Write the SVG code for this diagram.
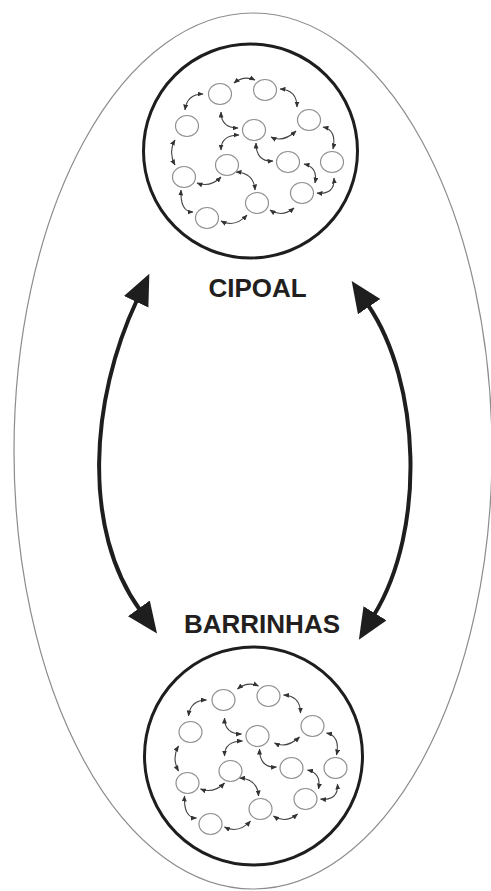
<svg xmlns="http://www.w3.org/2000/svg" xmlns:xlink="http://www.w3.org/1999/xlink" width="491" height="891" viewBox="0 0 491 891">
<style>
.outer{fill:none;stroke:#8c8c8c;stroke-width:1.2}
.big{fill:#fff;stroke:#1e1e1e;stroke-width:3}
.sm{fill:#fff;stroke:#8f8f8f;stroke-width:1.2}
.lk{fill:none;stroke:#444;stroke-width:1.1;marker-start:url(#sh);marker-end:url(#sh)}
.bigarrow{fill:none;stroke:#1e1e1e;stroke-width:4;marker-start:url(#bh);marker-end:url(#bh)}
.lbl{font-family:"Liberation Sans",Arial,sans-serif;font-weight:bold;font-size:26px;fill:#231f20;text-anchor:middle}
</style>
<defs>
<marker id="bh" viewBox="0 0 32 28" refX="2" refY="13.5" markerWidth="32" markerHeight="28" markerUnits="userSpaceOnUse" orient="auto-start-reverse">
<path d="M0,0 L31,13.5 L0,27 Z" fill="#1e1e1e"/>
</marker>
<marker id="sh" viewBox="0 0 6 5" refX="5.5" refY="2.5" markerWidth="6" markerHeight="5" markerUnits="userSpaceOnUse" orient="auto-start-reverse">
<path d="M0,0 L6,2.5 L0,5 Z" fill="#333"/>
</marker>
<g id="net">
<g id="links">
<path class="lk" d="M185,110 Q187,94 203,94"/>
<path class="lk" d="M234,83 Q244,75 255,80"/>
<path class="lk" d="M280,89 Q297,90 297,107"/>
<path class="lk" d="M221,112 Q221,128 238,128"/>
<path class="lk" d="M271,137 Q283,143 296,131"/>
<path class="lk" d="M323,127 Q337,130 333,149"/>
<path class="lk" d="M239,135 Q221,135 221,150"/>
<path class="lk" d="M256,143 Q256,162 273,161"/>
<path class="lk" d="M304,164 Q318,167 315,183"/>
<path class="lk" d="M334,178 Q335,195 317,193"/>
<path class="lk" d="M175,140 Q168,152 175,165"/>
<path class="lk" d="M197,183 Q210,188 221,177"/>
<path class="lk" d="M236,172 Q254,173 255,190"/>
<path class="lk" d="M181,190 Q180,212 193,212"/>
<path class="lk" d="M221,221 Q235,228 247,215"/>
<path class="lk" d="M270,210 Q282,218 294,208"/>
</g>
<ellipse class="sm" cx="220" cy="94" rx="11.5" ry="10.5"/>
<ellipse class="sm" cx="265" cy="90" rx="11.5" ry="10.5"/>
<ellipse class="sm" cx="187" cy="126" rx="11.5" ry="10.5"/>
<ellipse class="sm" cx="309" cy="120" rx="11.5" ry="10.5"/>
<ellipse class="sm" cx="254" cy="130" rx="11.5" ry="10.5"/>
<ellipse class="sm" cx="227" cy="165" rx="11.5" ry="10.5"/>
<ellipse class="sm" cx="288" cy="162" rx="11.5" ry="10.5"/>
<ellipse class="sm" cx="332" cy="162" rx="11.5" ry="10.5"/>
<ellipse class="sm" cx="184" cy="177" rx="11.5" ry="10.5"/>
<ellipse class="sm" cx="257" cy="203" rx="11.5" ry="10.5"/>
<ellipse class="sm" cx="302" cy="193" rx="11.5" ry="10.5"/>
<ellipse class="sm" cx="207" cy="218" rx="11.5" ry="10.5"/>
</g>
</defs>
<rect width="491" height="891" fill="#fff"/>
<ellipse id="outer" class="outer" cx="253" cy="451" rx="239" ry="438"/>
<g id="cipoal">
<circle class="big" cx="250.5" cy="151" r="107"/>
<use xlink:href="#net" href="#net"/>
<text class="lbl" x="257.5" y="297">CIPOAL</text>
</g>
<g id="barrinhas">
<circle class="big" cx="253.5" cy="756" r="109"/>
<use xlink:href="#net" href="#net" transform="translate(3.5,606)"/>
<text class="lbl" x="262" y="633">BARRINHAS</text>
</g>
<g id="connectors">
<path class="bigarrow" d="M137,300 C90,400 82,530 140,610"/>
<path class="bigarrow" d="M368,305 C420.5,382 426.5,529 374,615"/>
</g>
</svg>
